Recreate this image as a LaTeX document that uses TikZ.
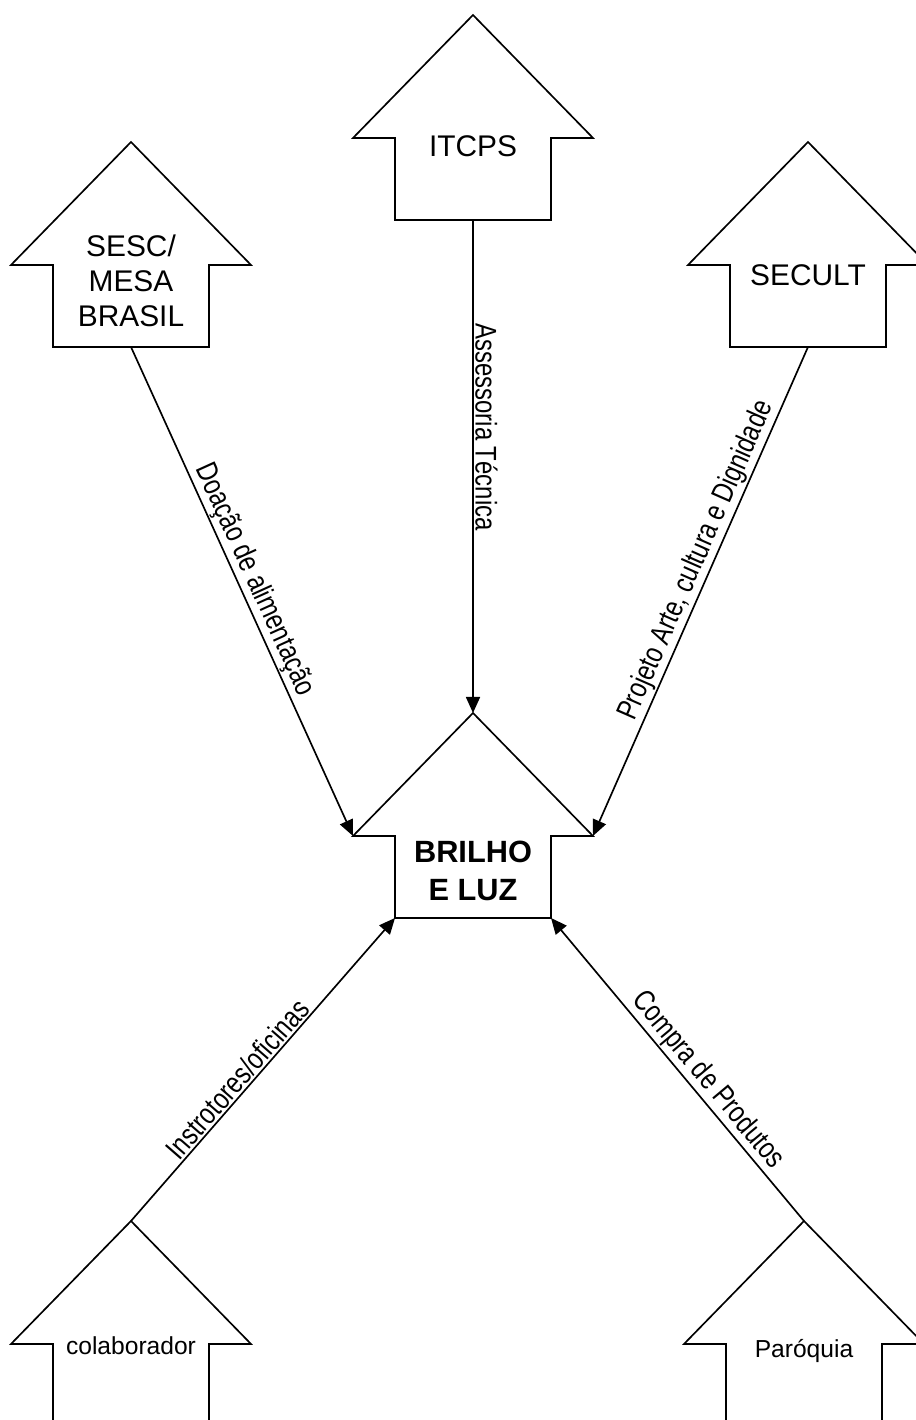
\documentclass[tikz,border=0pt]{standalone}
\usepackage{fontspec}
\setmainfont{Liberation Sans}
\usepackage{graphicx}
\usetikzlibrary{arrows.meta,calc}

% up-arrow outline, tip at (#2,#3)
\newcommand{\uparrowshape}[3]{%
  \coordinate (#1-tip) at (#2,#3);
  \draw[outline] (#1-tip) -- ++(120,-123) coordinate (#1-rw)
    -- ++(-42,0) -- ++(0,-82) coordinate (#1-br)
    -- ++(-78,0) coordinate (#1-b)
    -- ++(-78,0) coordinate (#1-bl)
    -- ++(0,82) -- ++(-42,0) coordinate (#1-lw) -- cycle;
}
\newcommand{\narrow}[1]{\scalebox{0.8}[1]{#1}}

\begin{document}
\begin{tikzpicture}[x=0.02cm, y=0.02cm,
    outline/.style={line width=0.95pt},
    boxtext/.style={font=\fontsize{17}{20}\selectfont, align=center, inner sep=0pt},
    boldtext/.style={font=\fontsize{17.5}{21.5}\selectfont\bfseries, align=center, inner sep=0pt},
    smalltext/.style={font=\fontsize{14}{17}\selectfont, inner sep=0pt, anchor=base},
    link/.style={line width=0.95pt, -{Triangle[length=3.2mm, width=2.8mm]}},
    lbl/.style={sloped, above, inner sep=0.8pt, font=\fontsize{17}{20}\selectfont}]
  \useasboundingbox (0,0) rectangle (916,1420);
  \clip (0,0) rectangle (916,1420);

  % shapes
  \uparrowshape{itcps}{473}{1405}
  \uparrowshape{sesc}{131}{1278}
  \uparrowshape{secult}{808}{1278}
  \uparrowshape{brilho}{473}{707}
  \uparrowshape{colab}{131}{199}
  \uparrowshape{paroquia}{804}{199}

  \node[boxtext, anchor=base] (itcps) at (473,1263) {ITCPS};
  \node[boxtext] (sesc) at (131,1139) {SESC/\\MESA\\BRASIL};
  \node[boxtext, anchor=base] (secult) at (808,1134) {SECULT};
  \node[boldtext] (brilho) at (473,549) {BRILHO\\E LUZ};
  \node[smalltext] (colab) at (131,65) {colaborador};
  \node[smalltext] (paroquia) at (804,62) {Paróquia};

  % connectors
  \draw[link] (itcps-b) -- node[lbl, pos=0.42] {\narrow{Assessoria Técnica}} (brilho-tip);
  \draw[link] (sesc-b) -- node[lbl, pos=0.49] {\narrow{Doação de alimentação}} (brilho-lw);
  \draw[link] (secult-b) -- node[lbl, pos=0.45] {\narrow{Projeto Arte, cultura e Dignidade}} (brilho-rw);
  \draw[link] (colab-tip) -- node[lbl, pos=0.44] {\narrow{Instrotores/oficinas}} (brilho-bl);
  \draw[link] (paroquia-tip) -- node[lbl, pos=0.43] {\narrow{Compra de Produtos}} (brilho-br);
\end{tikzpicture}
\end{document}
